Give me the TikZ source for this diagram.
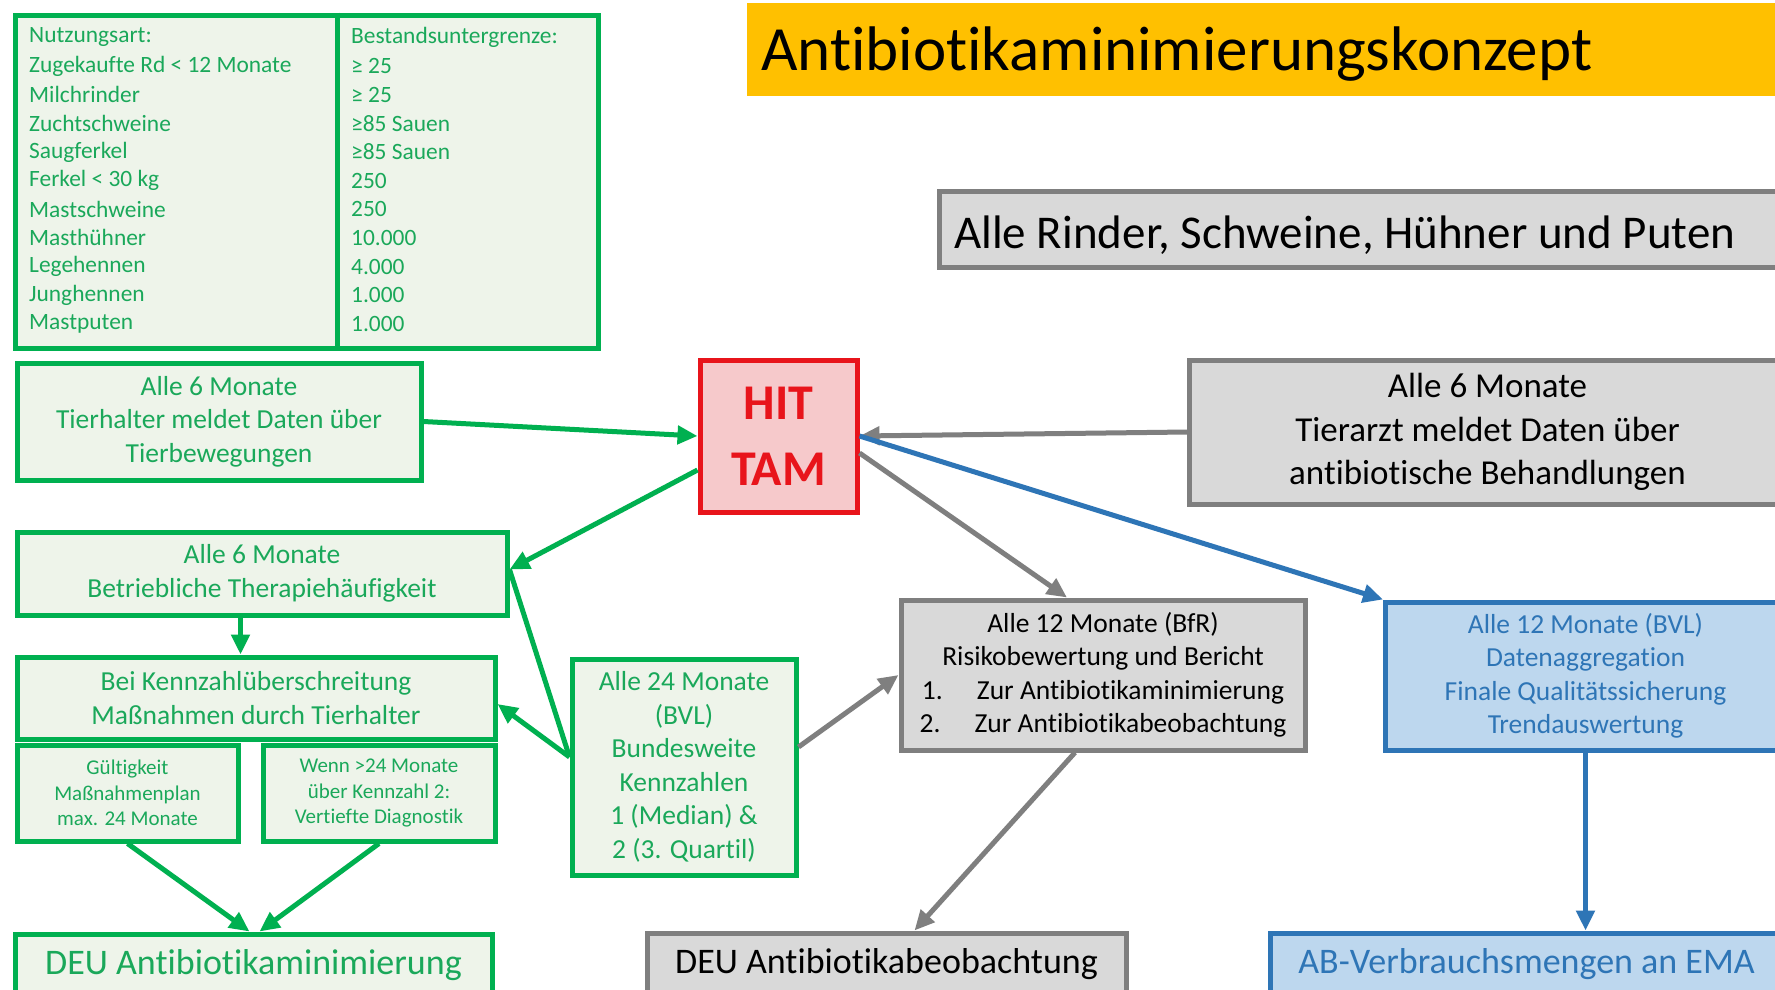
\documentclass[tikz,border=0pt]{standalone}
\usepackage{fontspec}
\setmainfont{Carlito}[Ligatures=NoCommon]
\usepackage{tikz}
\usetikzlibrary{positioning,calc,arrows.meta}
\definecolor{nagreen}{HTML}{00B050}
\definecolor{natext}{HTML}{1AA85A}
\definecolor{nagreenfill}{HTML}{EEF4EA}
\definecolor{nagray}{HTML}{7F7F7F}
\definecolor{nagrayfill}{HTML}{D9D9D9}
\definecolor{nared}{HTML}{E8141B}
\definecolor{naredfill}{HTML}{F6C9CB}
\definecolor{nablue}{HTML}{2E75B6}
\definecolor{nabluefill}{HTML}{BDD7EE}
\definecolor{naorange}{HTML}{FFC000}
\newcommand{\setfs}[2]{\fontsize{#1}{#2}\selectfont}

\begin{document}
\begin{tikzpicture}[x=1pt,y=-1pt,
    greenbox/.style={draw=nagreen, line width=5pt, fill=nagreenfill, text=natext, align=center, inner sep=0pt, font=\setfs{27.5}{33.5}},
    graybox/.style={draw=nagray, line width=5pt, fill=nagrayfill, text=black, align=center, inner sep=0pt},
    bluebox/.style={draw=nablue, line width=5pt, fill=nabluefill, text=nablue, align=center, inner sep=0pt},
    garrow/.style={draw=nagreen, line width=5pt, -{Triangle[length=20pt,width=18pt]}},
    grarrow/.style={draw=nagray, line width=5pt, -{Triangle[length=20pt,width=18pt]}},
    barrow/.style={draw=nablue, line width=5pt, -{Triangle[length=20pt,width=18pt]}},
    cell/.style={anchor=west, inner sep=0pt, text=natext, font=\setfs{23.4}{28}}]
    \useasboundingbox[fill=white] (0,0) rectangle (1775,989);

    \node[greenbox, minimum width=583pt, minimum height=333pt] (tbl) at (306.5,181.5) {};
    \coordinate (div) at (337,0);
    \draw[nagreen, line width=5pt] (tbl.north -| div) -- (tbl.south -| div);
    \foreach \lft/\rgt [count=\i from 0] in {Nutzungsart:/Bestandsuntergrenze:, Zugekaufte Rd < 12 Monate/≥ 25, Milchrinder/≥ 25, Zuchtschweine/≥85 Sauen, Saugferkel/≥85 Sauen, Ferkel < 30 kg/250, Mastschweine/250, Masthühner/10.000, Legehennen/4.000, Junghennen/1.000, Mastputen/1.000} {
        \node[cell] (art\i) at (29,{37.4+28.64*\i}) {\lft};
        \node[cell] (grenze\i) at (351,{37.4+28.64*\i}) {\rgt};
    }

    \fill[naorange] (747,3) rectangle (1775,96);
    \node[anchor=base west, inner sep=0pt, font=\setfs{63}{70}] (title) at (761,70) {Antibiotikaminimierungskonzept};

    \node[graybox, anchor=west, minimum width=860pt, minimum height=76pt] (alle) at (937,229) {};
    \node[anchor=base west, inner sep=0pt, font=\setfs{47}{54}] (alletext) at (954,248) {Alle Rinder, Schweine, Hühner und Puten};

    \node[draw=nared, line width=5pt, fill=naredfill, text=nared, align=center, inner sep=0pt, minimum width=157pt, minimum height=152pt, font=\bfseries\setfs{50}{66}] (hit) at (778.5,436) {HIT\\TAM};

    \node[greenbox, minimum width=404pt, minimum height=117pt] (tierhalter) at (219,421.5) {Alle 6 Monate\\Tierhalter meldet Daten über\\Tierbewegungen};
    \node[graybox, anchor=west, minimum width=596pt, minimum height=144pt, font=\setfs{35}{43.5}] (tierarzt) at (1187,432) {Alle 6 Monate\\Tierarzt meldet Daten über\\antibiotische Behandlungen};
    \node[greenbox, minimum width=490pt, minimum height=83pt] (betrieb) at (262,573.5) {Alle 6 Monate\\Betriebliche Therapiehäufigkeit};
    \node[greenbox, minimum width=478pt, minimum height=82pt] (massn) at (256,698) {Bei Kennzahlüberschreitung\\Maßnahmen durch Tierhalter};
    \node[greenbox, minimum width=221pt, minimum height=96pt, font=\setfs{21}{25.5}] (gueltig) at (127.5,793) {Gültigkeit\\Maßnahmenplan\\max. 24 Monate};
    \node[greenbox, minimum width=232pt, minimum height=96pt, font=\setfs{21}{25.5}] (wenn) at (379,793) {Wenn >24 Monate\\über Kennzahl 2:\\Vertiefte Diagnostik};
    \node[greenbox, minimum width=224pt, minimum height=216pt] (kennz) at (684,767) {Alle 24 Monate\\(BVL)\\Bundesweite\\Kennzahlen\\1 (Median) \&\\2 (3. Quartil)};
    \node[graybox, minimum width=404pt, minimum height=150pt, font=\setfs{27.5}{33.5}] (bfr) at (1103,675) {Alle 12 Monate (BfR)\\Risikobewertung und Bericht\\\makebox[55pt][l]{1.}Zur Antibiotikaminimierung\\\makebox[55pt][l]{2.}Zur Antibiotikabeobachtung};
    \node[bluebox, anchor=west, minimum width=400pt, minimum height=148pt, font=\setfs{27.5}{33.5}] (bvl) at (1383,676) {Alle 12 Monate (BVL)\\Datenaggregation\\Finale Qualitätssicherung\\Trendauswertung};

    \node[greenbox, minimum width=477pt, minimum height=62pt, font=\setfs{36}{42}] (deumin) at (253.5,965) {DEU Antibiotikaminimierung};
    \node[graybox, minimum width=479pt, minimum height=62pt, font=\setfs{36}{42}] (deubeo) at (886.5,964) {DEU Antibiotikabeobachtung};
    \node[bluebox, anchor=west, minimum width=512pt, minimum height=62pt, font=\setfs{36}{42}] (ema) at (1268,964) {AB-Verbrauchsmengen an EMA};

    \draw[garrow] (tierhalter.east) -- (hit.west);
    \draw[grarrow] (tierarzt.west) -- (hit.east);
    \draw[garrow] ([yshift=-34pt]hit.west) -- ([yshift=4pt]betrieb.east);
    \draw[grarrow] ([yshift=-17pt]hit.east) -- ([xshift=-36pt]bfr.north);
    \draw[barrow] (hit.east) -- (bvl.north west);
    \draw[garrow] (betrieb.south -| gueltig.east) -- (massn.north -| gueltig.east);
    \draw[nagreen, line width=5pt] ([yshift=10pt]kennz.west) -- ([yshift=4pt]betrieb.east);
    \draw[garrow] ([yshift=10pt]kennz.west) -- ([yshift=-6pt]massn.east);
    \draw[grarrow] ([yshift=20pt]kennz.east) -- (bfr.west);
    \draw[grarrow] ([xshift=-28pt]bfr.south) -- ([xshift=28pt]deubeo.north);
    \draw[barrow] (bvl.south) -- (bvl.south |- ema.north);
    \draw[garrow] (gueltig.south) -- ([xshift=-4pt]deumin.north);
    \draw[garrow] (wenn.south) -- ([xshift=6pt]deumin.north);
\end{tikzpicture}
\end{document}
